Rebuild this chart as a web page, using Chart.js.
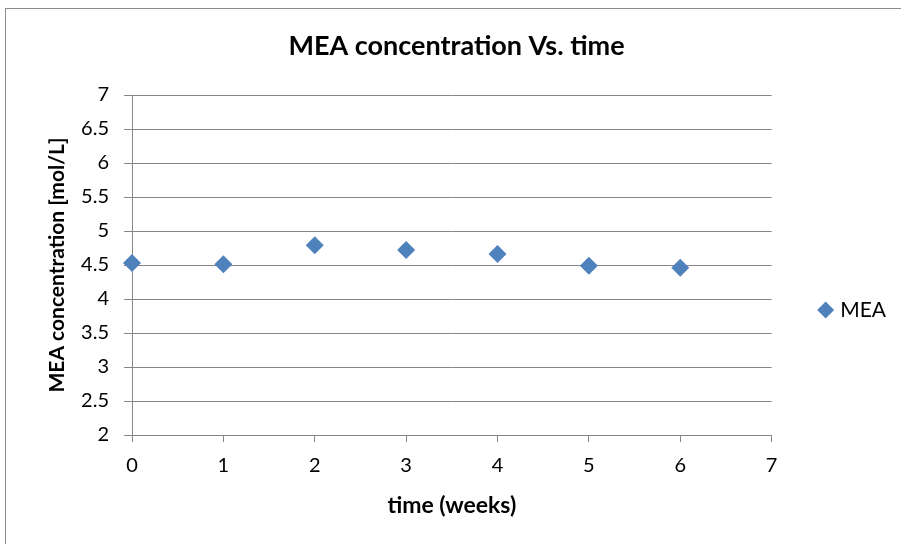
<!DOCTYPE html>
<html>
<head>
<meta charset="utf-8">
<script src="https://cdn.jsdelivr.net/npm/chart.js@4/dist/chart.umd.min.js"></script>
<style>
  html, body { margin: 0; padding: 0; background: #fff; overflow: hidden; }
  #wrap { position: relative; width: 901px; height: 544px; }
  #frame { position: absolute; left: 5px; top: 8px; width: 1000px; height: 600px; border: 1px solid #8c8c8c; pointer-events: none; }
  canvas { position: absolute; left: 0; top: 0; }
</style>
</head>
<body>
<div id="wrap">
  <div id="frame"></div>
  <canvas id="chart" width="901" height="544"></canvas>
</div>
<script>
const weeks = [0, 1, 2, 3, 4, 5, 6];
const meaConc = [4.53, 4.51, 4.79, 4.72, 4.66, 4.49, 4.46];
const seriesName = 'MEA';

const chartTitle = 'MEA concentration Vs. time';
const xTitle = 'time (weeks)';
const yTitle = 'MEA concentration [mol/L]';

const blue = '#4f81bd';
const gridGray = '#868686';
const font = 'Lato';

// legend sits a bit lower than the plot centre
const legendDrop = {
  id: 'legendDrop',
  afterLayout(chart) {
    chart.legend.top += 38;
    chart.legend.bottom += 38;
  }
};

const ctx = document.getElementById('chart').getContext('2d');

const myChart = new Chart(ctx, {
  type: 'scatter',
  data: {
    datasets: [{
      label: seriesName,
      data: weeks.map((w, i) => ({ x: w, y: meaConc[i] })),
      pointStyle: 'rectRot',
      pointRadius: 9,
      pointHoverRadius: 9,
      backgroundColor: blue,
      borderColor: blue,
      borderWidth: 0,
      clip: false
    }]
  },
  options: {
    responsive: false,
    animation: false,
    layout: { padding: { left: 17, right: 5, top: 0, bottom: 0 } },
    plugins: {
      title: {
        display: true,
        text: chartTitle,
        color: '#000',
        font: { family: font, size: 27, weight: 'bold' },
        padding: { top: 30, bottom: 32.6 }
      },
      legend: {
        position: 'right',
        labels: {
          usePointStyle: true,
          boxWidth: 8,
          boxHeight: 12,
          padding: 50,
          color: '#000',
          font: { family: font, size: 21 }
        }
      },
      tooltip: { enabled: false }
    },
    scales: {
      x: {
        type: 'linear',
        min: 0,
        max: 7,
        ticks: { stepSize: 1, color: '#000', padding: 12, font: { family: font, size: 20 } },
        grid: { drawOnChartArea: false, drawTicks: true, tickLength: 7, color: gridGray },
        border: { color: gridGray, width: 1 },
        title: {
          display: true,
          text: xTitle,
          color: '#000',
          font: { family: font, size: 23, weight: 'bold' },
          padding: { top: 0, bottom: 25 }
        },
        afterFit(scale) { scale.height = 109; }
      },
      y: {
        min: 2,
        max: 7,
        ticks: {
          stepSize: 0.5,
          color: '#000',
          padding: 15,
          font: { family: font, size: 20 },
          callback: (v) => String(Number(v.toFixed(1)))
        },
        grid: { color: gridGray, tickLength: 8 },
        border: { color: gridGray, width: 1 },
        title: {
          display: true,
          text: yTitle,
          color: '#000',
          font: { family: font, size: 21, weight: 'bold' },
          padding: { top: 27.4, bottom: 0 }
        },
        afterFit(scale) { scale.width = 115; }
      }
    }
  },
  plugins: [legendDrop]
});
</script>
</body>
</html>
